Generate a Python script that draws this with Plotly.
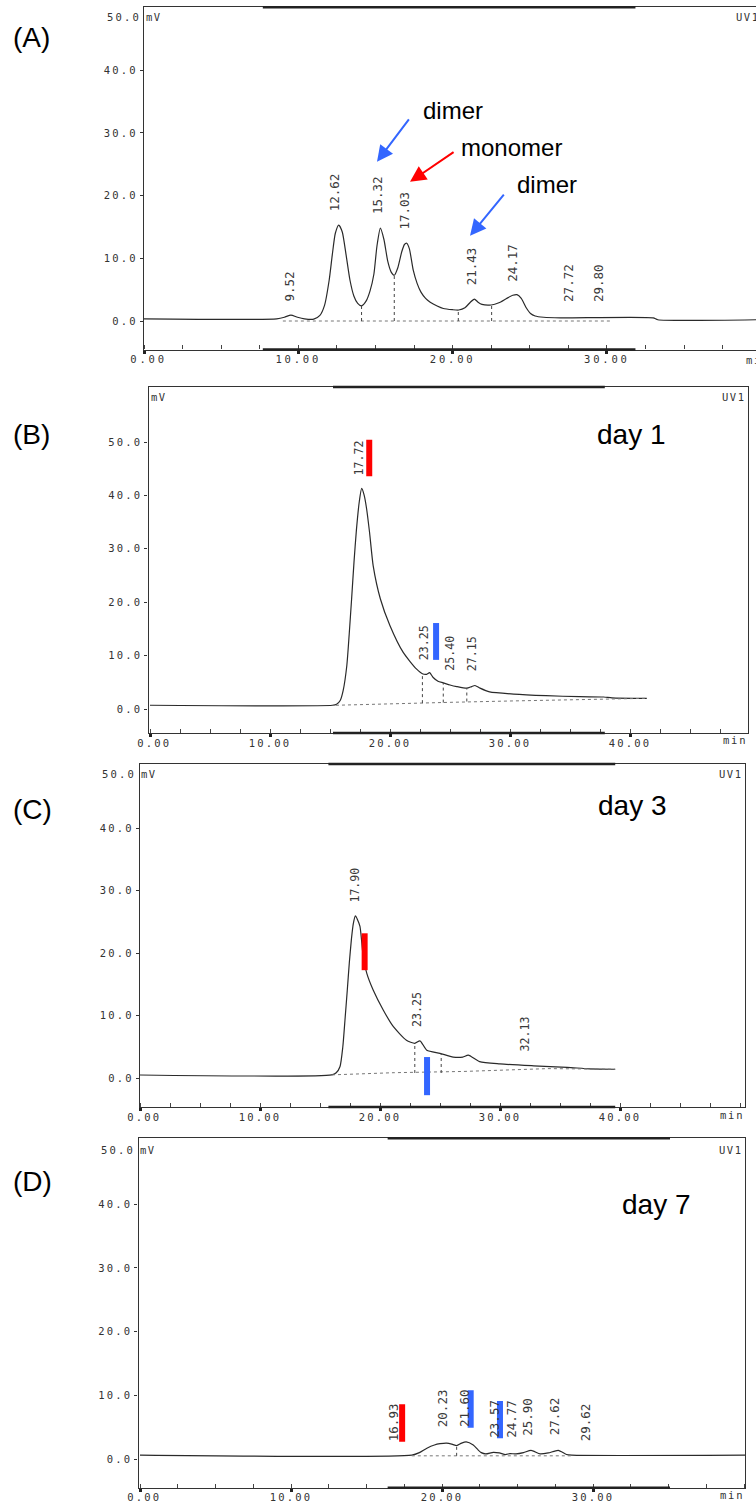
import plotly.graph_objects as go

W, H = 756, 1503

# ---------------- data ----------------
# (A) reference run
a_time = [0.0, 8.6, 9.1, 9.52, 9.95, 10.4, 11.0, 11.4, 11.7, 12.0,
          12.2, 12.4, 12.62, 12.85, 13.1, 13.35, 13.6, 13.85, 14.1, 14.4,
          14.65, 14.9, 15.1, 15.32, 15.55, 15.8, 16.02, 16.22, 16.45, 16.7,
          16.88, 17.03, 17.2, 17.45, 17.7, 17.95, 18.25, 18.55, 19.0, 19.4,
          20.0, 20.4, 20.8, 21.15, 21.41, 21.65, 21.9, 22.5, 23.0, 23.5,
          23.9, 24.17, 24.45, 24.75, 25.05, 25.35, 25.9, 27.0, 33.0, 33.3,
          39.7]
a_mv = [0.35, 0.35, 0.6, 0.95, 0.6, 0.35, 0.3, 0.9, 2.5, 6.5,
        10.5, 14.0, 15.3, 14.2, 10.5, 6.5, 4.0, 2.8, 2.4, 3.2,
        4.8, 7.5, 12.0, 14.8, 13.0, 9.5, 7.8, 7.3, 8.5, 11.0,
        12.2, 12.4, 11.5, 8.1, 6.0, 4.6, 3.6, 3.0, 2.4, 2.0,
        1.8, 1.75, 2.1, 3.0, 3.5, 3.0, 2.65, 2.55, 2.9, 3.6,
        4.1, 4.2, 3.6, 2.2, 1.2, 0.8, 0.6, 0.5, 0.5, 0.2,
        0.2]
a_labels = ["9.52", "12.62", "15.32", "17.03", "21.43", "24.17", "27.72", "29.80"]
a_label_t = [9.42, 12.4, 15.1, 16.88, 21.28, 23.92, 27.55, 29.5]
a_label_mv = [3.0, 17.4, 16.9, 14.5, 5.6, 6.1, 2.9, 2.9]
a_drop_t = [14.1, 16.22, 20.37, 22.53]
a_drop_mv = [2.4, 7.3, 1.75, 2.55]
a_drop_base = [0.0, 0.0, 0.0, 0.0]
a_base_t = [9.0, 30.2]
a_base_mv = [0.0, 0.0]
a_window = [7.7, 31.85]

# (B) day 1
b_time = [0.0, 15.2, 15.55, 15.85, 16.1, 16.4, 16.6, 16.8, 17.0, 17.2,
          17.45, 17.64, 17.85, 18.05, 18.3, 18.6, 19.2, 20.0, 21.1, 22.2,
          22.7, 23.06, 23.3, 23.6, 24.0, 24.44, 25.0, 25.56, 26.4, 26.8,
          27.08, 27.5, 28.3, 30.3, 33.0, 35.8, 37.8, 38.5, 41.4]
b_mv = [0.7, 0.7, 0.9, 1.6, 3.5, 8.1, 14.0, 20.6, 27.5, 33.5,
        39.0, 41.3, 40.0, 37.5, 33.0, 26.8, 20.6, 15.6, 10.6, 7.5,
        6.6, 6.5, 6.8, 5.9, 5.2, 4.9, 4.5, 4.2, 3.9, 4.2,
        4.4, 3.9, 3.2, 2.8, 2.5, 2.3, 2.25, 2.1, 2.0]
b_labels = ["17.72", "23.25", "25.40", "27.15"]
b_label_t = [17.4, 22.9, 25.0, 26.8]
b_label_mv = [43.6, 9.0, 6.9, 6.9]
b_drop_t = [22.7, 24.44, 26.4]
b_drop_mv = [6.6, 4.9, 3.9]
b_drop_base = [1.1, 1.2, 1.4]
b_base_t = [15.5, 20.0, 25.0, 30.0, 36.0, 41.4]
b_base_mv = [0.7, 0.9, 1.25, 1.5, 1.8, 2.0]
b_window = [15.25, 37.9]
b_bar_t = [18.27, 23.84]
b_bar_lo = [43.6, 9.2]
b_bar_hi = [50.4, 16.1]
b_bar_kind = ["monomer", "dimer"]

# (C) day 3
c_time = [0.0, 15.97, 16.35, 16.67, 16.9, 17.08, 17.27, 17.44, 17.62, 17.78,
          17.95, 18.1, 18.33, 18.6, 18.9, 19.44, 20.28, 21.1, 22.2, 22.9,
          23.33, 23.9, 25.0, 26.1, 26.9, 27.36, 28.3, 30.0, 32.8, 35.6,
          37.5, 39.6]
c_mv = [0.53, 0.55, 0.9, 1.9, 5.0, 9.3, 14.0, 18.4, 22.3, 24.8,
        26.0, 25.5, 24.3, 19.5, 16.8, 14.1, 10.9, 8.3, 6.1, 5.6,
        6.0, 4.5, 4.0, 3.4, 3.4, 3.7, 2.66, 2.3, 2.0, 1.76,
        1.5, 1.45]
c_labels = ["17.90", "23.25", "32.13"]
c_label_t = [17.9, 23.1, 32.1]
c_label_mv = [28.0, 8.0, 4.1]
c_drop_t = [22.9, 25.1]
c_drop_mv = [5.6, 4.0]
c_drop_base = [0.85, 0.85]
c_base_t = [16.0, 21.2, 27.0, 30.5, 34.0, 39.6]
c_base_mv = [0.55, 0.9, 1.1, 1.3, 1.55, 1.45]
c_window = [15.7, 39.6]
c_bar_t = [18.72, 23.92]
c_bar_lo = [17.3, -2.7]
c_bar_hi = [23.2, 3.4]
c_bar_kind = ["monomer", "dimer"]

# (D) day 7
d_time = [0.0, 18.0, 18.5, 19.0, 19.5, 19.87, 20.3, 20.7, 20.97, 21.3,
          21.6, 22.07, 22.4, 22.6, 22.9, 23.4, 23.8, 24.2, 24.5, 24.9,
          25.4, 25.9, 26.5, 27.04, 27.7, 28.25, 28.6, 40.1]
d_mv = [0.6, 0.6, 1.0, 1.7, 2.2, 2.4, 2.5, 2.3, 2.1, 2.5,
        2.7, 2.2, 1.4, 1.0, 0.8, 1.05, 0.95, 0.7, 0.85, 0.8,
        1.0, 1.35, 0.8, 0.95, 1.35, 0.7, 0.6, 0.6]
d_labels = ["16.93", "20.23", "21.60", "23.57", "24.77", "25.90", "27.62", "29.62"]
d_label_t = [16.78, 20.05, 21.5, 23.47, 24.6, 25.7, 27.46, 29.5]
d_label_mv = [2.7, 4.8, 4.8, 3.25, 3.25, 3.5, 3.5, 2.7]
d_drop_t = [20.97]
d_drop_mv = [2.1]
d_drop_base = [0.5]
d_base_t = [18.0, 28.6]
d_base_mv = [0.5, 0.5]
d_window = [16.4, 35.1]
d_bar_t = [17.36, 21.9, 23.84]
d_bar_lo = [2.7, 4.9, 3.25]
d_bar_hi = [8.6, 10.8, 9.1]
d_bar_kind = ["monomer", "dimer", "dimer"]

# Panel (A) call-outs: (text, text_t, text_mv, tail_t, tail_mv, head_t, head_mv, kind)
a_callouts = [
    ("dimer", 20.0, 33.6, 17.24, 32.4, 15.1, 25.4, "dimer"),
    ("monomer", 23.8, 27.6, 20.16, 27.1, 17.24, 22.2, "monomer"),
    ("dimer", 26.1, 21.7, 23.4, 20.4, 21.13, 13.6, "dimer"),
]

# ---------------- styling ----------------
KIND_COLOR = {"monomer": "#FF0000", "dimer": "#3366FF"}
INK = "#2a2a2a"
TXT = "#3a3a3a"
MONO = "DejaVu Sans Mono"
SANS = "Liberation Sans, Arial, sans-serif"

# layout geometry of each printout (pixel frame + pixel calibration)
panels = [
    dict(key="A", xd=(144, 756), yd=(7.3, 349.5), x0=144, kx=15.43, y0=321, ky=6.27,
         xt=[0, 10, 20, 30], yt=[0, 10, 20, 30, 40], mirror_y=False, lsz=12.5, lsp=2.8,
         time=a_time, mv=a_mv, labels=a_labels, lt=a_label_t, lmv=a_label_mv,
         dt=a_drop_t, dmv=a_drop_mv, dbase=a_drop_base, bt=a_base_t, bmv=a_base_mv,
         win=a_window, bars=None),
    dict(key="B", xd=(148.5, 748), yd=(387, 733), x0=150, kx=12.0, y0=709, ky=5.34,
         xt=[0, 10, 20, 30, 40], yt=[0, 10, 20, 30, 40, 50], mirror_y=True, lsz=11.6, lsp=2.2,
         time=b_time, mv=b_mv, labels=b_labels, lt=b_label_t, lmv=b_label_mv,
         dt=b_drop_t, dmv=b_drop_mv, dbase=b_drop_base, bt=b_base_t, bmv=b_base_mv,
         win=b_window, bars=(b_bar_t, b_bar_lo, b_bar_hi, b_bar_kind)),
    dict(key="C", xd=(140, 745), yd=(764, 1107), x0=140, kx=12.0, y0=1078.3, ky=6.25,
         xt=[0, 10, 20, 30, 40], yt=[0, 10, 20, 30, 40], mirror_y=True, lsz=11.6, lsp=2.2,
         time=c_time, mv=c_mv, labels=c_labels, lt=c_label_t, lmv=c_label_mv,
         dt=c_drop_t, dmv=c_drop_mv, dbase=c_drop_base, bt=c_base_t, bmv=c_base_mv,
         win=c_window, bars=(c_bar_t, c_bar_lo, c_bar_hi, c_bar_kind)),
    dict(key="D", xd=(138.5, 745), yd=(1138.3, 1487.7), x0=140, kx=15.1, y0=1459, ky=6.37,
         xt=[0, 10, 20, 30], yt=[0, 10, 20, 30, 40], mirror_y=True, lsz=12.5, lsp=2.2,
         time=d_time, mv=d_mv, labels=d_labels, lt=d_label_t, lmv=d_label_mv,
         dt=d_drop_t, dmv=d_drop_mv, dbase=d_drop_base, bt=d_base_t, bmv=d_base_mv,
         win=d_window, bars=(d_bar_t, d_bar_lo, d_bar_hi, d_bar_kind)),
]


def spaced(s, ls):
    return f'<span style="letter-spacing:{ls}px">{s}</span>'


def px(x, y):
    return x / W, 1 - y / H


fig = go.Figure()
annotations = []
shapes = []
layout = dict(width=W, height=H, autosize=False,
              margin=dict(l=0, r=0, t=0, b=0, pad=0, autoexpand=False),
              paper_bgcolor="white", plot_bgcolor="white", showlegend=False)

for i, p in enumerate(panels, start=1):
    sfx = "" if i == 1 else str(i)
    xr, yr = "x" + sfx, "y" + sfx
    xrange = [(p["xd"][0] - p["x0"]) / p["kx"], (p["xd"][1] - p["x0"]) / p["kx"]]
    yrange = [(p["y0"] - p["yd"][1]) / p["ky"], (p["y0"] - p["yd"][0]) / p["ky"]]
    layout["xaxis" + sfx] = dict(
        domain=[p["xd"][0] / W, min(1, p["xd"][1] / W)], range=xrange, anchor=yr,
        automargin=False,
        showline=True, linecolor="#333", linewidth=1.3, mirror=True,
        showgrid=False, zeroline=False, fixedrange=True,
        ticks="outside", ticklen=3, tickwidth=3, tickcolor="#222",
        ticklabelstandoff=-3,
        tickvals=p["xt"],
        ticktext=[spaced(f"{v:.2f}".rjust(5, "\u00a0"), p["lsp"]) for v in p["xt"]],
        tickfont=dict(family=MONO, size=10.5, color="#333"),
        minor=dict(dtick=2.5, tick0=0, ticks="inside", ticklen=4, tickwidth=1,
                   tickcolor="#444", showgrid=False),
    )
    layout["yaxis" + sfx] = dict(
        domain=[1 - p["yd"][1] / H, 1 - p["yd"][0] / H], range=yrange, anchor=xr,
        automargin=False,
        showline=True, linecolor="#333", linewidth=1.3, mirror=p["mirror_y"],
        showgrid=False, zeroline=False, fixedrange=True,
        ticks="outside", ticklen=3, tickwidth=1, tickcolor="#333",
        tickvals=p["yt"],
        ticktext=[spaced(f"{v:.1f}", 2.2) for v in p["yt"]],
        tickfont=dict(family=MONO, size=10.5, color="#333"),
    )

    # chromatogram trace
    fig.add_trace(go.Scatter(x=p["time"], y=p["mv"], mode="lines", xaxis=xr, yaxis=yr,
                             line=dict(color=INK, width=1.2, shape="spline", smoothing=0.6),
                             hoverinfo="skip"))
    # integration baseline (dotted)
    fig.add_trace(go.Scatter(x=p["bt"], y=p["bmv"], mode="lines", xaxis=xr, yaxis=yr,
                             line=dict(color="#777", width=1, dash="dot"), hoverinfo="skip"))
    # drop lines
    for t, v, b in zip(p["dt"], p["dmv"], p["dbase"]):
        fig.add_trace(go.Scatter(x=[t, t], y=[b, v], mode="lines", xaxis=xr, yaxis=yr,
                                 line=dict(color="#444", width=1, dash="dot"), hoverinfo="skip"))
    # peak retention-time labels
    for lab, t, v in zip(p["labels"], p["lt"], p["lmv"]):
        annotations.append(dict(x=t, y=v, xref=xr, yref=yr, text=lab, textangle=-90,
                                xanchor="center", yanchor="bottom", showarrow=False,
                                borderpad=0, font=dict(family=MONO, size=p["lsz"], color=TXT)))
    # integration window bars on top / bottom frame
    for yy in (0, 1):
        shapes.append(dict(type="line", xref=xr, yref=yr + " domain", x0=p["win"][0],
                           x1=p["win"][1], y0=yy, y1=yy, line=dict(color="#222", width=2.6)))
    # coloured markers
    if p["bars"]:
        for t, lo, hi, kind in zip(*p["bars"]):
            shapes.append(dict(type="rect", xref=xr, yref=yr, xsizemode="pixel", xanchor=t,
                               x0=-3, x1=3, y0=lo, y1=hi, line=dict(width=0),
                               fillcolor=KIND_COLOR[kind], layer="above"))

# panel A call-outs
for text, tx, ty, at, av, ht, hv, kind in a_callouts:
    annotations.append(dict(x=tx, y=ty, xref="x", yref="y", text=text, showarrow=False,
                            xanchor="center", yanchor="middle",
                            font=dict(family=SANS, size=24, color="black")))
    annotations.append(dict(x=ht, y=hv, ax=at, ay=av, xref="x", yref="y", axref="x", ayref="y",
                            text="", showarrow=True, arrowhead=2, arrowsize=1.6, arrowwidth=2,
                            arrowcolor=KIND_COLOR[kind], standoff=0))

# free text in pixel positions: (text, x, y, xanchor, font family, size, color)
free_text = [
    ("(A)", 31, 37.5, "center", SANS, 28, "black"),
    ("(B)", 31, 434.6, "center", SANS, 28, "black"),
    ("(C)", 32, 809.4, "center", SANS, 28, "black"),
    ("(D)", 32, 1181, "center", SANS, 28, "black"),
    ("day 1", 631, 434, "center", SANS, 28, "black"),
    ("day 3", 632, 806, "center", SANS, 28, "black"),
    ("day 7", 656, 1204, "center", SANS, 28, "black"),
    (spaced("50.0", 2.2), 142, 16.7, "right", MONO, 10.5, "#333"),
    (spaced("50.0", 2.2), 137, 774.3, "right", MONO, 10.5, "#333"),
    (spaced("50.0", 2.2), 136, 1150, "right", MONO, 10.5, "#333"),
    (spaced("mV", 1.5), 145, 17, "left", MONO, 10.5, "#333"),
    (spaced("mV", 1.5), 150, 397, "left", MONO, 10.5, "#333"),
    (spaced("mV", 1.5), 140, 774, "left", MONO, 10.5, "#333"),
    (spaced("mV", 1.5), 139, 1150, "left", MONO, 10.5, "#333"),
    (spaced("UV1", 1.5), 735, 17, "left", MONO, 10.5, "#333"),
    (spaced("UV1", 1.5), 746, 397, "right", MONO, 10.5, "#333"),
    (spaced("UV1", 1.5), 743, 774, "right", MONO, 10.5, "#333"),
    (spaced("UV1", 1.5), 743, 1150, "right", MONO, 10.5, "#333"),
    (spaced("min", 1.8), 745, 360, "left", MONO, 10.5, "#333"),
    (spaced("min", 1.8), 748, 740, "right", MONO, 10.5, "#333"),
    (spaced("min", 1.8), 745, 1115, "right", MONO, 10.5, "#333"),
    (spaced("min", 1.8), 745, 1495, "right", MONO, 10.5, "#333"),
]
for text, x, y, xa, fam, size, col in free_text:
    fx, fy = px(x, y)
    annotations.append(dict(x=fx, y=fy, xref="paper", yref="paper", text=text, showarrow=False,
                            xanchor=xa, yanchor="middle", borderpad=0,
                            font=dict(family=fam, size=size, color=col)))

layout["annotations"] = annotations
layout["shapes"] = shapes
fig.update_layout(**layout)
fig.write_html(
    "out.html",
    config={"displayModeBar": False},
    post_script="document.body.style.margin='0';document.body.style.overflow='hidden';",
)
